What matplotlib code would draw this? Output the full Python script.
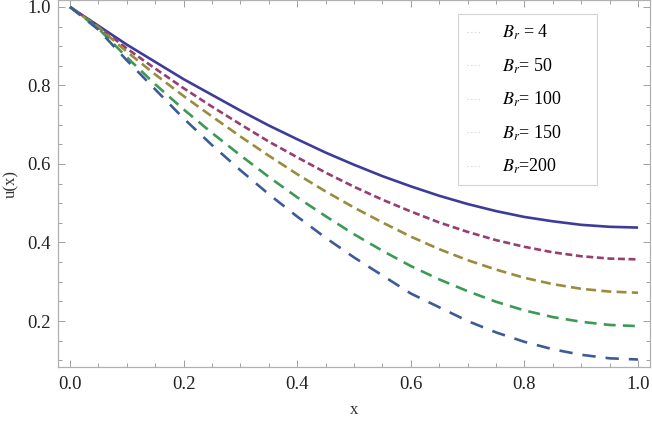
import matplotlib
matplotlib.use('Agg')
import matplotlib.pyplot as plt
from matplotlib.lines import Line2D
from matplotlib.ticker import MultipleLocator

plt.rcParams['font.family'] = ['Liberation Serif', 'DejaVu Serif']
plt.rcParams['mathtext.fontset'] = 'stix'
plt.rcParams['lines.scale_dashes'] = False

# values
x = [0.0, 0.05, 0.1, 0.15, 0.2, 0.25, 0.3, 0.35, 0.4, 0.45, 0.5,
     0.55, 0.6, 0.65, 0.7, 0.75, 0.8, 0.85, 0.9, 0.95, 1.0]
u_br4 = [1.0, 0.952, 0.904, 0.860, 0.816, 0.776, 0.736, 0.698, 0.663, 0.629, 0.598,
         0.569, 0.543, 0.519, 0.498, 0.480, 0.465, 0.454, 0.445, 0.440, 0.438]
u_br50 = [1.0, 0.950, 0.894, 0.843, 0.793, 0.746, 0.701, 0.657, 0.617, 0.578, 0.542,
          0.509, 0.479, 0.451, 0.427, 0.406, 0.389, 0.375, 0.365, 0.359, 0.357]
u_br100 = [1.0, 0.948, 0.886, 0.828, 0.773, 0.721, 0.670, 0.621, 0.574, 0.530, 0.489,
           0.451, 0.415, 0.383, 0.355, 0.331, 0.310, 0.294, 0.282, 0.275, 0.272]
u_br150 = [1.0, 0.945, 0.872, 0.803, 0.739, 0.679, 0.622, 0.567, 0.515, 0.467, 0.421,
           0.379, 0.340, 0.306, 0.276, 0.249, 0.227, 0.210, 0.198, 0.190, 0.187]
u_br200 = [1.0, 0.942, 0.864, 0.790, 0.716, 0.648, 0.584, 0.523, 0.466, 0.412, 0.362,
           0.316, 0.270, 0.235, 0.200, 0.171, 0.147, 0.128, 0.114, 0.105, 0.102]
labels = [r'$B_r$ = 4', r'$B_r$= 50', r'$B_r$= 100', r'$B_r$= 150', r'$B_r$=200']

series = [u_br4, u_br50, u_br100, u_br150, u_br200]
colors = ['#3d3d99', '#993d71', '#998c3d', '#3d9954', '#3d5a99']
dashes = [None, (5, 2.6), (7.2, 3.8), (8.6, 5.2), (9.6, 7.2)]

fig = plt.figure(figsize=(6.52, 4.22), dpi=100)
ax = fig.add_axes([0.089, 0.131, 0.908, 0.868])

for ys, c, d in zip(series, colors, dashes):
    line, = ax.plot(x, ys, color=c, lw=1.9, solid_capstyle='butt', dash_capstyle='butt')
    if d is not None:
        line.set_dashes(d)

ax.set_xlim(-0.0211, 1.0211)
ax.set_ylim(0.0836, 1.0166)
ax.xaxis.set_major_locator(MultipleLocator(0.2))
ax.xaxis.set_minor_locator(MultipleLocator(0.05))
ax.yaxis.set_major_locator(MultipleLocator(0.2))
ax.yaxis.set_minor_locator(MultipleLocator(0.05))
ax.tick_params(which='both', direction='in', top=True, right=True,
               labeltop=False, labelright=False, color='#a0a0a0', width=0.7)
ax.tick_params(which='major', length=5, labelsize=13.5, labelcolor='#222222')
ax.tick_params(axis='x', which='major', pad=7)
ax.tick_params(axis='y', which='major', pad=5)
ax.tick_params(which='minor', length=2.8)
for s in ax.spines.values():
    s.set_color('#b0b0b0')
    s.set_linewidth(0.9)

ax.set_xlabel('x', fontsize=12, color='#333333', labelpad=6)
ax.set_ylabel('u(x)', fontsize=12, color='#333333', labelpad=6)

handles = [Line2D([], [], color='#d8d8d8', lw=0.8, ls=':') for _ in labels]
leg = ax.legend(handles, labels, loc='upper left', bbox_to_anchor=(0.676, 0.963, 0.234, 0.0),
                mode='expand', fontsize=13, frameon=True, fancybox=False,
                handlelength=0.75, handletextpad=1.2, labelspacing=0.78,
                borderpad=0.5, borderaxespad=0.0)
leg.get_frame().set_edgecolor('#c8c8c8')
leg.get_frame().set_linewidth(0.8)

fig.savefig('out.png', dpi=100)
